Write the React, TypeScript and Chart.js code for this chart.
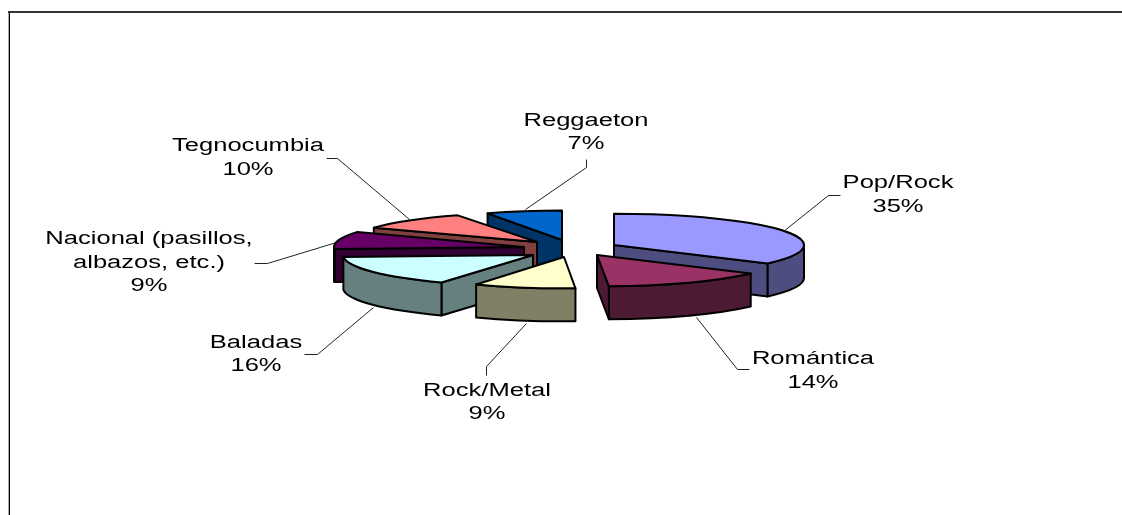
import React, { useEffect, useRef } from "react";
import { Chart, registerables } from "chart.js";

Chart.register(...registerables);

const WIDTH = 1122;
const HEIGHT = 515;

// Music preference shares, clockwise from twelve o'clock.
const genres = ["Pop/Rock", "Romántica", "Rock/Metal", "Baladas", "Nacional (pasillos, albazos, etc.)", "Tegnocumbia", "Reggaeton"];
const shares = [35, 14, 9, 16, 9, 10, 7];
const topColors = ["#9999FF", "#993366", "#FFFFCC", "#CCFFFF", "#660066", "#FF8080", "#0066CC"];
const sideColors = ["#4D4D80", "#4D1A33", "#808066", "#668080", "#330033", "#804040", "#003366"];

// Callout text, one entry per line, with the block centre and first line position.
const calloutLines = [
  ["Pop/Rock", "35%"],
  ["Romántica", "14%"],
  ["Rock/Metal", "9%"],
  ["Baladas", "16%"],
  ["Nacional (pasillos,", "albazos, etc.)", "9%"],
  ["Tegnocumbia", "10%"],
  ["Reggaeton", "7%"],
];
const calloutAnchors = [
  [898, 183.5],
  [813, 359.5],
  [487, 391],
  [256, 343],
  [149, 239.5],
  [248, 146.5],
  [586, 121],
];
const leaderPaths = [
  [[783, 231], [828, 195], [840, 195]],
  [[696, 317], [737, 369], [749, 369]],
  [[526, 323], [486, 366], [486, 375]],
  [[373, 307], [317, 354], [304, 354]],
  [[336, 242], [267, 263], [254, 263]],
  [[409, 219], [337, 158], [326, 158]],
  [[525, 209], [586, 167], [586, 159]],
];

// Exploded slice placement relative to the pie centre, and the per-slice
// foreshortening of the 3-D view.
const explodeX = [53, 36, 3, -28, -37, -24, 1];
const explodeY = [-12.5, -2.5, -0.5, -2.5, -10.5, -15.5, -17.5];
const spreadX = [1.0, 1.0, 0.96, 1.0, 1.0, 0.98, 0.92];
const spreadY = [0.165, 0.165, 0.165, 0.165, 0.165, 0.155, 0.155];
const PIE_RADIUS = 190;
const DEPTH = 33;
// Painter's order: the far slices first.
const paintOrder = [6, 0, 5, 4, 3, 1, 2];

const TEXT_STRETCH = 1.42;
const FONT = '18px "Liberation Sans", Arial, sans-serif';

const pie3d = {
  id: "pie3d",
  beforeDraw(chart: any) {
    const { ctx } = chart;
    ctx.save();
    // Chart frame: its right and bottom sides lie past the canvas edge.
    ctx.fillStyle = "#aaa";
    ctx.fillRect(8, 12, 1, HEIGHT - 12);
    ctx.fillStyle = "#000";
    ctx.fillRect(9, 12, 1, HEIGHT - 12);
    ctx.fillStyle = "#333";
    ctx.fillRect(8, 11, WIDTH - 8, 2);
    ctx.restore();
  },
  beforeDatasetsDraw(chart: any) {
    const { ctx } = chart;
    const arcs = chart.getDatasetMeta(0).data;
    for (const i of paintOrder) drawSlice(ctx, arcs[i], i);
    drawCallouts(ctx);
    return false;
  },
};

function drawSlice(ctx: CanvasRenderingContext2D, arc: any, i: number) {
  const ax = arc.x + explodeX[i];
  const ay = arc.y + explodeY[i];
  const rx = arc.outerRadius * spreadX[i];
  const ry = arc.outerRadius * spreadY[i];
  const { startAngle: a0, endAngle: a1 } = arc;
  const at = (t: number) => [ax + rx * Math.cos(t), ay + ry * Math.sin(t)];
  const mid = at((a0 + a1) / 2);

  const outline = (paint: () => void, fill: string) => {
    ctx.beginPath();
    paint();
    ctx.fillStyle = fill;
    ctx.fill();
    ctx.stroke();
  };

  ctx.save();
  ctx.strokeStyle = "#000";
  ctx.lineWidth = 2;
  ctx.lineJoin = "round";

  // Radial cut faces: only those whose slice lies above the edge face the viewer.
  for (const t of [a0, a1]) {
    const [ex, ey] = at(t);
    if (Math.abs(ex - ax) < 0.5) continue;
    const edgeY = ay + ((ey - ay) / (ex - ax)) * (mid[0] - ax);
    if (mid[1] < edgeY) {
      outline(() => {
        ctx.moveTo(ax, ay);
        ctx.lineTo(ex, ey);
        ctx.lineTo(ex, ey + DEPTH);
        ctx.lineTo(ax, ay + DEPTH);
        ctx.closePath();
      }, sideColors[i]);
    }
  }

  // Outer wall: the part of the rim on the near half of the ellipse.
  let w0 = a0;
  let w1 = a1;
  while (w0 < 0 && w1 < 0) {
    w0 += Math.PI * 2;
    w1 += Math.PI * 2;
  }
  w0 = Math.max(w0, 0);
  w1 = Math.min(w1, Math.PI);
  if (w1 > w0) {
    outline(() => {
      ctx.ellipse(ax, ay, rx, ry, 0, w0, w1);
      ctx.ellipse(ax, ay + DEPTH, rx, ry, 0, w1, w0, true);
      ctx.closePath();
    }, sideColors[i]);
  }
  ctx.restore();

  // Top face: the library's own arc, squashed into the view plane.
  ctx.save();
  ctx.translate(ax, ay);
  ctx.scale(spreadX[i], spreadY[i]);
  ctx.translate(-arc.x, -arc.y);
  arc.draw(ctx);
  ctx.restore();

  ctx.save();
  ctx.strokeStyle = "#000";
  ctx.lineWidth = 2;
  ctx.lineJoin = "round";
  ctx.beginPath();
  ctx.moveTo(ax, ay);
  ctx.ellipse(ax, ay, rx, ry, 0, a0, a1);
  ctx.closePath();
  ctx.stroke();
  ctx.restore();
}

function drawCallouts(ctx: CanvasRenderingContext2D) {
  ctx.save();
  ctx.strokeStyle = "#222";
  ctx.lineWidth = 1;
  for (const path of leaderPaths) {
    ctx.beginPath();
    path.forEach(([x, y], k) => (k ? ctx.lineTo(x + 0.5, y + 0.5) : ctx.moveTo(x + 0.5, y + 0.5)));
    ctx.stroke();
  }
  ctx.fillStyle = "#000";
  ctx.font = FONT;
  ctx.textAlign = "center";
  ctx.textBaseline = "middle";
  calloutLines.forEach((lines, i) => {
    const [cx, cy] = calloutAnchors[i];
    lines.forEach((line, k) => {
      ctx.save();
      ctx.translate(cx, cy + k * 23.5);
      ctx.scale(TEXT_STRETCH, 1);
      ctx.fillText(line, 0, 0);
      ctx.restore();
    });
  });
  ctx.restore();
}

export default function App() {
  const ref = useRef<HTMLCanvasElement>(null);
  useEffect(() => {
    const chart = new Chart(ref.current!, {
      type: "pie",
      data: {
        labels: genres,
        datasets: [
          {
            data: shares,
            backgroundColor: topColors,
            borderWidth: 0,
            radius: PIE_RADIUS,
          },
        ],
      },
      options: {
        responsive: false,
        animation: false,
        events: [],
        layout: { padding: 0 },
        plugins: { legend: { display: false }, tooltip: { enabled: false } },
      },
      plugins: [pie3d],
    } as any);
    return () => chart.destroy();
  }, []);
  return (
    <div style={{ position: "fixed", left: 0, top: 0, width: WIDTH, height: HEIGHT, background: "#fff" }}>
      <canvas ref={ref} width={WIDTH} height={HEIGHT} style={{ display: "block" }} />
    </div>
  );
}
